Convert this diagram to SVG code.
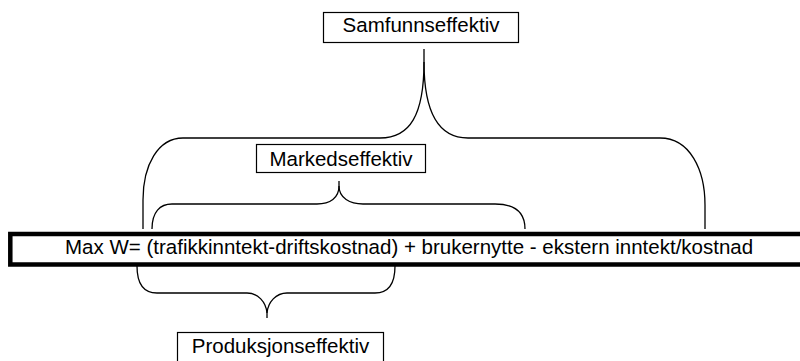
<svg xmlns="http://www.w3.org/2000/svg" width="800" height="361" viewBox="0 0 800 361">
<style>
.box{fill:#fff;stroke:#000;stroke-width:1.2}
.bar{fill:#fff;stroke:#000;stroke-width:4.5}
.lbl{font-family:"Liberation Sans",Arial,sans-serif;font-size:20.5px;fill:#000}
.brace{fill:none;stroke:#000;stroke-width:1.3}
</style>
<rect width="800" height="361" fill="#fff"/>
<g id="connectors">
<path class="brace" d="M424,49 L424,62 C424,115 410,138 380,138 L183,138 C158,138 143,165 143,200 L143,229"/>
<path class="brace" d="M424,62 C424,115 440,138 468,138 L660,138 C690,138 705,170 705,205 L705,229"/>
<path class="brace" d="M339,181 L339,186 C339,198 330,204 317,204 L172,204 C160,204 152,212 152,229"/>
<path class="brace" d="M339,186 C339,198 350,204 363,204 L495,204 C515,204 525,212 525,229"/>
<path class="brace" d="M137,266 C137,284 144,293 157,293 L247,293 C258,293 266,302 267,313 L267,318"/>
<path class="brace" d="M267,313 C268,302 276,293 287,293 L375,293 C388,293 395,284 395,266"/>
</g>
<g id="samfunnseffektiv">
<rect class="box" x="323.5" y="12.5" width="195" height="30"/>
<text class="lbl" x="421" y="32" text-anchor="middle">Samfunnseffektiv</text>
</g>
<g id="markedseffektiv">
<rect class="box" x="256.5" y="144.5" width="169" height="28"/>
<text class="lbl" x="341" y="166" text-anchor="middle">Markedseffektiv</text>
</g>
<g id="formel">
<rect class="bar" x="10.3" y="234" width="800" height="30.5"/>
<text class="lbl" x="65" y="254">Max W= (trafikkinntekt-driftskostnad) + brukernytte - ekstern inntekt/kostnad</text>
</g>
<g id="produksjonseffektiv">
<rect class="box" x="177.5" y="332.5" width="206" height="40"/>
<text class="lbl" x="280.5" y="353" text-anchor="middle">Produksjonseffektiv</text>
</g>
</svg>
